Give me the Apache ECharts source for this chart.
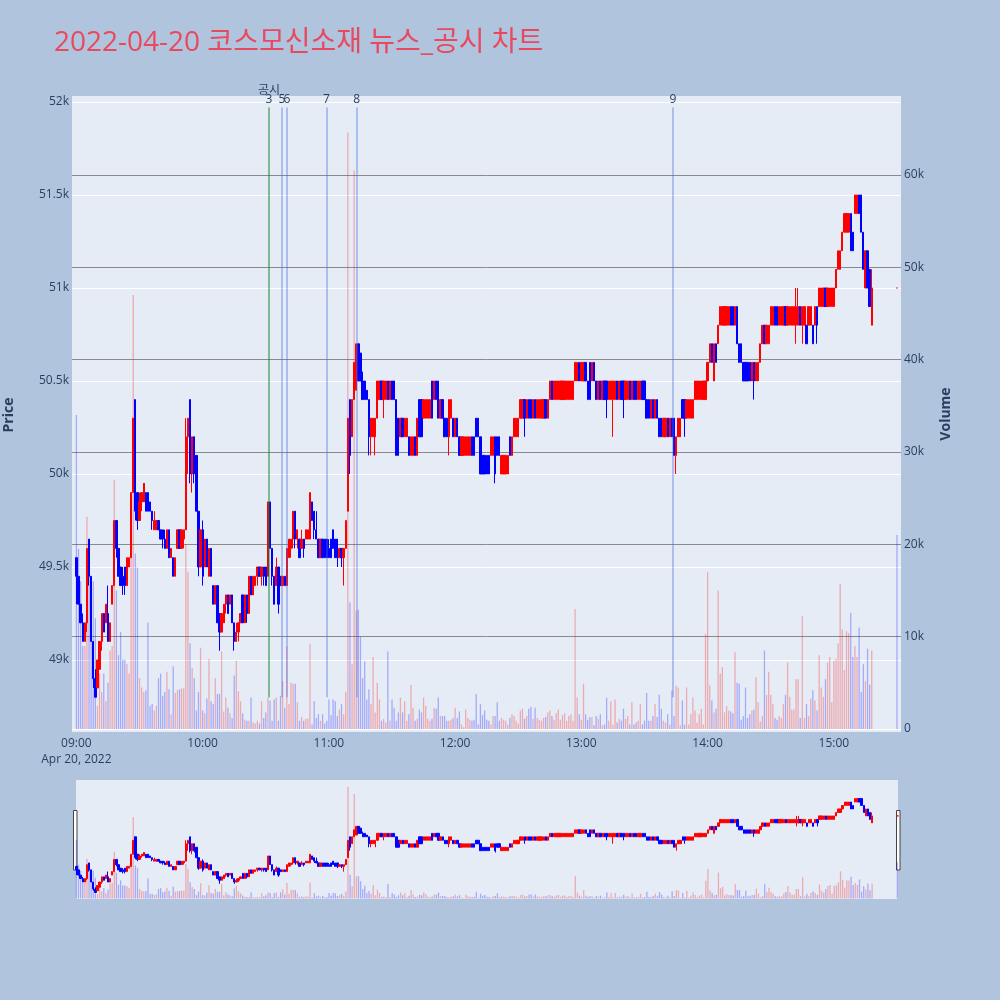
<!DOCTYPE html>
<html><head><meta charset="utf-8">
<script src="https://cdn.jsdelivr.net/npm/echarts@6/dist/echarts.min.js"></script>
<style>html,body{margin:0;padding:0;background:#B0C4DE}#c{width:1000px;height:1000px}</style>
</head><body><div id="c"></div>
<script>
const titleText = '2022-04-20 코스모신소재 뉴스_공시 차트';
const sessionStart = '09:00';
const closingAuctionTime = '15:30';
const dateLabel = 'Apr 20, 2022';
const timeTicks = ['09:00','10:00','11:00','12:00','13:00','14:00','15:00'];
const priceTicks = [49000,49500,50000,50500,51000,51500,52000];
const volumeTicks = [0,10000,20000,30000,40000,50000,60000];

// one entry per minute from 09:00, last entry = 15:30 closing auction
const opens = [
49550,49450,49300,49200,49100,49200,49650,49450,49100,48900,
48850,48950,49100,49250,49200,49250,49100,49300,49400,49750,
49600,49500,49450,49500,49400,49500,49550,49900,50400,49900,
49750,49850,49850,49900,49900,49850,49800,49700,49700,49750,
49700,49700,49650,49600,49700,49550,49550,49450,49600,49700,
49600,49650,49700,50200,50400,50000,50200,50100,49800,49500,
49700,49500,49650,49450,49600,49400,49300,49400,49250,49150,
49200,49300,49350,49300,49350,49200,49100,49150,49200,49350,
49200,49350,49250,49450,49350,49400,49450,49500,49450,49500,
49500,49450,49850,49600,49450,49400,49500,49450,49400,49450,
49400,49550,49600,49650,49800,49650,49650,49600,49650,49650,
49650,49650,49850,49800,49700,49650,49550,49650,49650,49650,
49600,49650,49700,49650,49650,49550,49600,49550,49600,49800,
50400,50200,50400,50450,50700,50650,50500,50500,50450,50400,
50200,50200,50200,50300,50400,50500,50400,50400,50500,50400,
50500,50500,50400,50300,50200,50300,50200,50200,50200,50100,
50100,50200,50100,50400,50400,50300,50300,50300,50300,50500,
50400,50500,50500,50300,50400,50300,50300,50200,50300,50300,
50200,50300,50200,50100,50100,50100,50100,50100,50200,50200,
50300,50300,50200,50100,50100,50100,50100,50100,50100,50200,
50200,50200,50000,50000,50000,50000,50200,50100,50200,50200,
50200,50300,50300,50400,50300,50400,50400,50300,50400,50300,
50300,50300,50300,50400,50300,50400,50500,50400,50400,50400,
50400,50400,50400,50400,50400,50400,50400,50500,50500,50600,
50500,50500,50600,50500,50600,50500,50600,50500,50400,50500,
50400,50500,50500,50400,50400,50400,50400,50500,50400,50500,
50500,50400,50400,50500,50400,50500,50500,50400,50400,50500,
50500,50400,50400,50300,50400,50300,50400,50300,50300,50200,
50200,50300,50200,50300,50300,50100,50200,50200,50400,50400,
50300,50300,50300,50300,50400,50400,50400,50400,50400,50400,
50500,50600,50700,50500,50700,50700,50800,50800,50800,50800,
50800,50900,50900,50800,50900,50700,50700,50600,50600,50600,
50600,50500,50600,50500,50500,50600,50700,50800,50700,50700,
50800,50800,50900,50900,50800,50800,50800,50900,50800,50800,
50800,50800,50800,50800,50900,50800,50800,50800,50800,50800,
50800,50800,50900,50900,50900,50900,51000,50900,50900,50900,
50900,51000,51100,51100,51200,51300,51300,51300,51400,51300,
51400,51400,51500,51500,51300,51000,51200,51100,50800,51000];
const closes = [
49450,49300,49200,49100,49200,49600,49450,49100,48900,48800,
49000,49100,49250,49150,49300,49100,49200,49400,49750,49600,
49450,49400,49400,49400,49550,49550,49900,50300,49800,49750,
49850,49900,49950,49800,49800,49800,49750,49750,49750,49700,
49650,49650,49600,49700,49550,49600,49450,49550,49700,49600,
49700,49700,50200,50300,50000,50200,50000,49800,49500,49700,
49450,49650,49500,49600,49450,49300,49400,49200,49150,49250,
49300,49350,49250,49350,49200,49100,49150,49200,49250,49200,
49350,49250,49450,49350,49450,49450,49500,49450,49500,49450,
49400,49850,49600,49450,49300,49500,49300,49400,49450,49400,
49600,49650,49650,49800,49650,49700,49550,49650,49600,49700,
49700,49900,49750,49700,49650,49550,49650,49550,49550,49550,
49550,49550,49600,49550,49550,49600,49550,49600,49750,50300,
50100,50400,50600,50700,50500,50500,50400,50400,50400,50200,
50300,50300,50300,50500,50500,50400,50500,50500,50400,50500,
50400,50400,50100,50100,50300,50200,50300,50300,50100,50200,
50200,50100,50300,50200,50200,50400,50400,50400,50400,50300,
50500,50400,50300,50400,50300,50200,50200,50400,50400,50200,
50300,50200,50100,50200,50200,50200,50200,50200,50100,50100,
50200,50200,50000,50000,50000,50000,50000,50200,50200,50000,
50100,50100,50100,50100,50100,50100,50100,50200,50300,50300,
50300,50400,50400,50300,50400,50300,50300,50400,50300,50400,
50400,50400,50400,50300,50400,50500,50400,50500,50500,50500,
50500,50500,50500,50500,50500,50500,50500,50600,50600,50500,
50600,50600,50500,50400,50400,50600,50500,50400,50500,50400,
50500,50400,50400,50500,50500,50500,50500,50400,50500,50400,
50400,50500,50500,50400,50500,50400,50400,50500,50500,50400,
50400,50300,50300,50400,50300,50400,50300,50200,50200,50300,
50300,50200,50300,50200,50100,50200,50300,50300,50300,50300,
50400,50400,50400,50400,50500,50500,50500,50500,50500,50500,
50600,50700,50600,50700,50600,50800,50900,50900,50900,50900,
50900,50800,50800,50900,50700,50600,50600,50500,50500,50500,
50500,50600,50500,50600,50600,50700,50800,50700,50800,50800,
50900,50900,50800,50800,50900,50900,50900,50800,50900,50900,
50900,50900,50900,50900,50800,50900,50900,50700,50900,50900,
50700,50900,50800,51000,51000,51000,50900,51000,51000,51000,
51000,51100,51200,51200,51300,51400,51400,51400,51200,51200,
51500,51500,51400,51300,51100,51200,51000,50900,51000,51000];
const lows = [
49300,49300,49200,49100,49100,49150,49400,49100,48850,48800,
48850,48950,49050,49150,49200,49100,49100,49300,49400,49550,
49450,49400,49350,49350,49400,49500,49550,49900,49750,49700,
49750,49800,49850,49800,49800,49800,49700,49700,49700,49700,
49650,49600,49600,49600,49550,49550,49450,49450,49600,49600,
49600,49600,49700,50000,49950,49900,49950,49800,49450,49500,
49400,49500,49500,49450,49450,49300,49300,49200,49050,49150,
49200,49250,49250,49300,49200,49050,49100,49100,49200,49200,
49200,49200,49250,49350,49350,49400,49400,49450,49400,49400,
49400,49450,49600,49400,49300,49400,49250,49400,49400,49400,
49400,49550,49550,49600,49600,49600,49550,49600,49550,49650,
49650,49650,49750,49650,49650,49550,49550,49550,49550,49550,
49550,49550,49600,49550,49500,49550,49500,49400,49600,49800,
50000,50200,50400,50450,50500,50500,50400,50400,50400,50100,
50100,50200,50100,50300,50400,50400,50300,50400,50400,50400,
50400,50400,50100,50100,50200,50200,50200,50200,50100,50100,
50100,50100,50100,50200,50200,50300,50300,50300,50300,50300,
50400,50400,50300,50300,50300,50200,50200,50100,50300,50200,
50200,50200,50100,50100,50100,50100,50100,50100,50100,50100,
50200,50200,50000,50000,50000,50000,50000,50100,50100,49950,
50100,50100,50000,50000,50000,50000,50100,50100,50200,50200,
50200,50300,50300,50200,50300,50300,50300,50300,50300,50300,
50300,50300,50300,50300,50300,50400,50400,50400,50400,50400,
50400,50400,50400,50400,50400,50400,50400,50500,50500,50500,
50500,50500,50500,50400,50400,50500,50500,50400,50400,50400,
50400,50400,50300,50400,50400,50200,50400,50400,50400,50400,
50300,50400,50400,50400,50400,50400,50400,50400,50400,50400,
50400,50300,50300,50300,50300,50300,50300,50200,50200,50200,
50200,50200,50200,50200,50100,50000,50200,50200,50300,50200,
50300,50300,50300,50300,50400,50400,50400,50400,50400,50400,
50500,50600,50600,50500,50600,50700,50800,50800,50800,50800,
50800,50800,50800,50800,50700,50600,50600,50500,50500,50500,
50500,50500,50400,50500,50500,50600,50700,50700,50700,50700,
50800,50800,50800,50800,50800,50800,50800,50800,50800,50800,
50800,50800,50700,50800,50800,50700,50800,50700,50800,50800,
50700,50800,50700,50900,50900,50900,50900,50900,50900,50900,
50900,51000,51100,51100,51200,51300,51300,51300,51200,51200,
51400,51400,51400,51300,51100,51000,51000,50900,50800,51000];
const highs = [
49550,49450,49300,49250,49200,49600,49650,49450,49100,48950,
49000,49100,49250,49250,49300,49400,49200,49400,49750,49750,
49600,49500,49500,49500,49550,49550,49900,50300,50400,49900,
49900,49900,49950,49900,49900,49850,49800,49800,49750,49750,
49700,49700,49700,49700,49700,49600,49550,49550,49700,49700,
49700,49700,50300,50300,50400,50200,50200,50100,49800,49700,
49750,49650,49650,49600,49600,49400,49400,49400,49250,49250,
49300,49350,49350,49350,49350,49200,49200,49200,49250,49350,
49350,49350,49450,49450,49450,49450,49500,49500,49500,49500,
49500,49850,49850,49600,49450,49550,49500,49450,49450,49450,
49600,49650,49650,49800,49800,49700,49650,49700,49650,49700,
49700,49900,49850,49800,49800,49650,49650,49650,49650,49650,
49650,49650,49700,49650,49650,49600,49600,49600,49750,50300,
50400,50400,50600,50700,50700,50650,50550,50500,50450,50400,
50300,50300,50300,50500,50500,50500,50500,50500,50500,50500,
50500,50500,50400,50300,50300,50300,50300,50300,50200,50200,
50200,50200,50300,50400,50400,50400,50400,50400,50400,50500,
50500,50500,50500,50400,50400,50300,50300,50400,50400,50300,
50300,50300,50200,50200,50200,50200,50200,50200,50200,50200,
50300,50300,50200,50100,50100,50100,50100,50200,50200,50200,
50200,50200,50100,50100,50100,50100,50200,50200,50300,50300,
50300,50400,50400,50400,50400,50400,50400,50400,50400,50400,
50400,50400,50400,50400,50400,50500,50500,50500,50500,50500,
50500,50500,50500,50500,50500,50500,50500,50600,50600,50600,
50600,50600,50600,50500,50600,50600,50600,50500,50500,50500,
50500,50500,50500,50500,50500,50500,50500,50500,50500,50500,
50500,50500,50500,50500,50500,50500,50500,50500,50500,50500,
50500,50400,50400,50400,50400,50400,50400,50300,50300,50300,
50300,50300,50300,50300,50300,50200,50300,50300,50400,50400,
50400,50400,50400,50400,50500,50500,50500,50500,50500,50500,
50600,50700,50700,50700,50700,50800,50900,50900,50900,50900,
50900,50900,50900,50900,50900,50700,50700,50600,50600,50600,
50600,50600,50600,50600,50600,50700,50800,50800,50800,50800,
50900,50900,50900,50900,50900,50900,50900,50900,50900,50900,
50900,50900,51000,51000,50900,50900,50900,50800,50900,50900,
50800,50900,50900,51000,51000,51000,51000,51000,51000,51000,
51000,51100,51200,51200,51300,51400,51400,51400,51400,51300,
51500,51500,51500,51500,51300,51200,51200,51100,51100,51000];
const volumes = [
34000,19500,16000,9000,9000,23000,18000,16000,16000,12000,
2500,6000,4000,6000,3000,5000,8500,9000,27000,15000,
8000,10500,7500,7500,7000,6000,24000,47000,19000,17500,
5500,4500,4000,4200,11500,2500,2700,2000,2500,5500,
6000,3600,4000,6200,4300,1600,6800,3900,4200,4300,
4400,4400,20000,17000,9300,6600,5500,2000,4000,8800,
2000,1700,3300,7600,3000,2700,5500,3800,3800,8400,
1900,3400,2300,1700,1200,5800,7400,4100,3000,1700,
1000,900,900,3400,700,600,900,600,3000,1200,
1800,3400,3100,900,3200,3400,900,3600,5200,2300,
9000,2700,5000,4900,4900,2900,900,1300,900,1100,
1100,9200,500,3000,1200,1600,900,1600,600,900,
3200,1500,3200,3000,1400,2100,2700,1600,4000,64600,
13700,7000,60500,12800,12900,10000,5500,7300,3200,4300,
2700,7800,1800,5000,3200,900,1100,700,8400,900,
3200,2300,900,1800,3400,1800,3000,900,1600,4800,
2300,900,1100,2100,1800,3400,2500,1100,900,1100,
2300,2200,3400,1400,1400,1400,900,900,1000,1200,
2300,1200,1900,500,200,2100,1200,1000,900,1000,
3800,500,2700,1500,2000,1000,900,500,1400,1400,
2900,900,1200,1000,900,500,1200,1600,1400,900,
600,2000,2200,1100,1400,2200,2400,1100,2300,1200,
1000,900,1200,1300,1800,2000,1400,1000,1700,2100,
1000,1500,1700,900,1400,1600,900,13000,3400,1600,
1000,4900,1600,1000,1300,1300,400,1400,1100,1600,
400,500,3400,900,3000,500,3200,700,1100,900,
2200,1100,1400,500,2900,500,700,900,2700,500,
900,3900,900,900,1400,2700,1300,3700,2200,900,
700,1600,500,4200,1400,4700,4500,400,3100,500,
4500,500,1600,3400,2000,700,1600,2200,500,10300,
17000,4700,3100,1800,2200,15000,6000,6700,1800,2500,
2000,1900,1700,8300,5000,4900,1000,1400,4500,1200,
1600,2000,2100,5600,2900,800,1400,8500,3700,6200,
3700,2700,1200,1000,1400,1200,2700,3700,7200,3500,
2100,2100,5400,5400,1200,12200,1200,2700,1400,3300,
4200,3100,2000,8000,4500,3500,5400,7200,7800,2900,
7400,7600,9300,15700,10800,6400,10600,10400,12600,7800,
9000,7800,11000,4000,7000,5200,8700,4800,8500,21000];

const newsLabels = ['공시','3','5','6','7','8','9'];
const newsTimes = ['10:31:30','10:31:30','10:37:40','10:40:00','10:58:50','11:13:10','13:43:30'];
const newsColors = ['rgba(0,128,0,0.42)','rgba(65,105,225,0.08)','rgba(65,105,225,0.35)','rgba(65,105,225,0.35)','rgba(65,105,225,0.35)','rgba(65,105,225,0.35)','rgba(65,105,225,0.35)'];

function toMin(t){ const p=t.split(':').map(Number); const s=sessionStart.split(':').map(Number); return (p[0]-s[0])*60+(p[1]-s[1])+(p[2]||0)/60; }
const closeMin = toMin(closingAuctionTime);
const xs = opens.map((_, i) => i < opens.length - 1 ? i : closeMin);

const RED = '#FF0000', BLUE = '#0000FF';
const candleData = opens.map((o, i) => [xs[i], o, closes[i], lows[i], highs[i]]);
const volData = volumes.map((v, i) => ({ value: [xs[i], v], itemStyle: { color: closes[i] > opens[i] ? RED : BLUE } }));

const dayLow = Math.min(...lows);
const lineTop = 51970;
const markData = newsTimes.map((t, i) => {
  const m = toMin(t);
  return [
    { coord: [m, dayLow], lineStyle: { color: newsColors[i], width: 2, type: 'solid' } },
    { coord: [m, lineTop], label: { formatter: newsLabels[i], distance: i === 0 ? 11 : 2 } }
  ];
});

const fmtTime = v => { const h = 9 + Math.floor(v / 60), mm = v % 60; return String(h).padStart(2,'0') + ':' + String(mm).padStart(2,'0'); };
const kFmt = v => v === 0 ? '0' : (v / 1000) + 'k';
const FONT = '"Open Sans", "Noto Sans CJK KR", sans-serif';
const TXT = '#2a3f5f';
const candleStyle = { color: RED, color0: BLUE, borderColor: RED, borderColor0: BLUE, borderWidth: 1 };

const chart = echarts.init(document.getElementById('c'), null, { renderer: 'canvas' });
chart.setOption({
  animation: false,
  backgroundColor: '#B0C4DE',
  title: { text: titleText, left: 49, top: 24, textStyle: { fontSize: 28, fontWeight: 'normal', color: '#E9495F', fontFamily: FONT } },
  grid: [
    { left: 72, top: 96, width: 829, height: 636, show: true, backgroundColor: '#E5ECF6', borderWidth: 0 },
    { left: 76, top: 780, width: 822, height: 119, show: true, backgroundColor: '#E5ECF6', borderWidth: 0 }
  ],
  xAxis: [
    { type: 'value', gridIndex: 0, min: -2.1, max: 391.9,
      axisLine: { show: false }, axisTick: { show: false, customValues: timeTicks.map(toMin) },
      splitLine: { show: false },
      axisLabel: { customValues: timeTicks.map(toMin), margin: 4, color: TXT, fontSize: 12, fontFamily: FONT, lineHeight: 16,
        formatter: v => v === 0 ? fmtTime(v) + '\n' + dateLabel : fmtTime(v) } },
    { type: 'value', gridIndex: 1, min: -0.2, max: 390.3, axisLine: { show: false }, axisTick: { show: false }, splitLine: { show: false }, axisLabel: { show: false } }
  ],
  yAxis: [
    { type: 'value', gridIndex: 0, min: 48613, max: 52032, position: 'left',
      axisLine: { show: false }, axisTick: { show: false, customValues: priceTicks },
      splitLine: { show: true, lineStyle: { color: '#ffffff', width: 1 } },
      axisLabel: { customValues: priceTicks, formatter: kFmt, margin: 3, color: TXT, fontSize: 12, fontFamily: FONT } },
    { type: 'value', gridIndex: 0, min: -325, max: 68560, position: 'right',
      axisLine: { show: false }, axisTick: { show: false, customValues: volumeTicks },
      splitLine: { show: true, lineStyle: { color: ['#ffffff','#8a8a8a','#8a8a8a','#8a8a8a','#8a8a8a','#8a8a8a','#8a8a8a'], width: 1 } },
      axisLabel: { customValues: volumeTicks, formatter: kFmt, margin: 3, color: TXT, fontSize: 12, fontFamily: FONT } },
    { type: 'value', gridIndex: 1, min: 48613, max: 52032, show: false, splitLine: { show: false } },
    { type: 'value', gridIndex: 1, min: -325, max: 68560, show: false, splitLine: { show: false } }
  ],
  series: [
    { type: 'bar', xAxisIndex: 0, yAxisIndex: 1, data: volData, barWidth: 1.3, itemStyle: { opacity: 0.28 }, z: 1, silent: true },
    { type: 'line', xAxisIndex: 0, yAxisIndex: 0, data: [], z: 2, silent: true,
      markLine: { symbol: 'none', silent: true, animation: false, data: markData,
        label: { show: true, position: 'end', color: TXT, fontSize: 12, fontFamily: FONT } } },
    { type: 'candlestick', xAxisIndex: 0, yAxisIndex: 0, data: candleData, encode: { x: 0, y: [1, 2, 3, 4] },
      barWidth: 1.8, z: 3, silent: true, itemStyle: candleStyle },
    { type: 'bar', xAxisIndex: 1, yAxisIndex: 3, data: volData, barWidth: 1.3, itemStyle: { opacity: 0.28 }, z: 1, silent: true },
    { type: 'candlestick', xAxisIndex: 1, yAxisIndex: 2, data: candleData, encode: { x: 0, y: [1, 2, 3, 4] },
      barWidth: 1.8, z: 3, silent: true, itemStyle: candleStyle }
  ],
  graphic: [
    { type: 'text', x: 9, y: 415, rotation: Math.PI / 2, style: { text: 'Price', fill: TXT, font: 'bold 14px ' + FONT, textAlign: 'center', textVerticalAlign: 'middle' } },
    { type: 'text', x: 946, y: 414, rotation: Math.PI / 2, style: { text: 'Volume', fill: TXT, font: 'bold 14px ' + FONT, textAlign: 'center', textVerticalAlign: 'middle' } },
    { type: 'rect', shape: { x: 73.5, y: 810.5, width: 3.5, height: 59.5 }, style: { fill: '#ffffff', stroke: '#444444', lineWidth: 1 } },
    { type: 'rect', shape: { x: 896.5, y: 810.5, width: 3.5, height: 59.5 }, style: { fill: '#ffffff', stroke: '#444444', lineWidth: 1 } }
  ]
});
</script></body></html>
